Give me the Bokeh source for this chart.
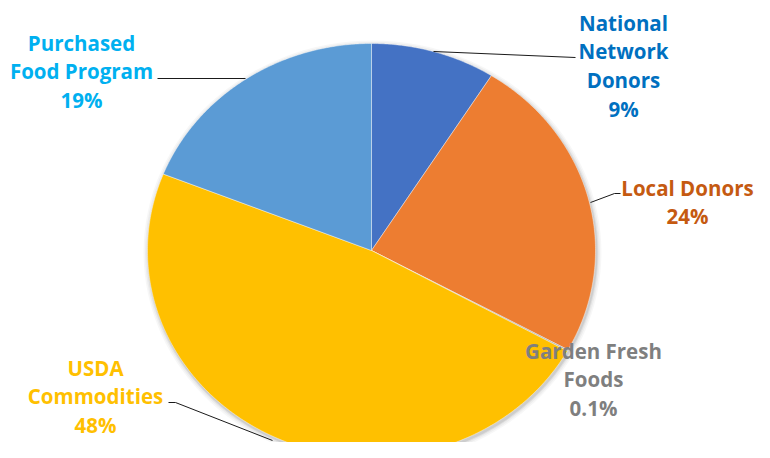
import numpy as np
from bokeh.plotting import figure
from bokeh.models import Range1d
from bokeh.core.properties import value
from bokeh.embed import file_html
from bokeh.resources import INLINE

# ---- data ----
categories = ["National Network Donors", "Local Donors", "Garden Fresh Foods",
              "USDA Commodities", "Purchased Food Program"]
shares = [9, 24, 0.1, 48, 19]
pct_labels = ["9%", "24%", "0.1%", "48%", "19%"]

# ---- styles / layout ----
slice_colors = ["#4472C4", "#ED7D31", "#A5A5A5", "#FFC000", "#5B9BD5"]
text_colors = ["#0070C0", "#C55A11", "#7F7F7F", "#FFC000", "#00B0F0"]
wrap = {"National Network Donors": ["National", "Network", "Donors"],
        "Local Donors": ["Local Donors"],
        "Garden Fresh Foods": ["Garden Fresh", "Foods"],
        "USDA Commodities": ["USDA", "Commodities"],
        "Purchased Food Program": ["Purchased", "Food Program"]}
label_xy = [(623, 22), (687, 187), (593, 350), (95, 367), (81, 42)]
leaders = [[(433, 51), (575, 57)],
           [(590, 202), (614, 193), (620, 193)],
           None,
           [(272, 440), (175, 402), (168, 402)],
           [(245, 78), (157, 78)]]
CX, CY, RX, RY = 371, 250, 224, 207
LINE_H = 28.7
FONT = "Open Sans"
FSIZE = "20.5px"

W, H = 754, 442
p = figure(width=W, height=H, output_backend="svg", toolbar_location=None,
           x_range=Range1d(0, W), y_range=Range1d(H, 0),
           min_border=0)
p.axis.visible = False
p.grid.visible = False
p.outline_line_color = None

# soft shadow
for k, a in [(10, 0.03), (7, 0.04), (4, 0.06), (2, 0.08)]:
    p.ellipse(x=CX + 1, y=CY + 2, width=2 * RX + k, height=2 * RY + k,
              fill_color="#000000", fill_alpha=a, line_color=None)

total = sum(shares)
fracs = np.array(shares) / total
ends = np.cumsum(fracs) * 2 * np.pi
starts = ends - fracs * 2 * np.pi
xs, ys = [], []
for a0, a1 in zip(starts, ends):
    n = max(3, int((a1 - a0) / (2 * np.pi) * 720))
    t = np.linspace(a0, a1, n)
    xs.append([CX] + list(CX + RX * np.sin(t)))
    ys.append([CY] + list(CY - RY * np.cos(t)))
p.patches(xs=xs, ys=ys, fill_color=slice_colors, line_color="white",
          line_width=0.6, line_alpha=0.7)

# leader lines
for ld in leaders:
    if ld:
        p.line(x=[q[0] for q in ld], y=[q[1] for q in ld],
               line_color="#1a1a1a", line_width=1)

# labels
for cat, pct, (lx, ly), col in zip(categories, pct_labels, label_xy, text_colors):
    lines = wrap[cat] + [pct]
    p.text(x=[lx] * len(lines), y=[ly + i * LINE_H for i in range(len(lines))],
           text=lines, text_align="center", text_baseline="middle",
           text_font=value(FONT), text_font_style="bold",
           text_font_size=FSIZE, text_color=col)

open("out.html", "w").write(file_html(p, INLINE))
